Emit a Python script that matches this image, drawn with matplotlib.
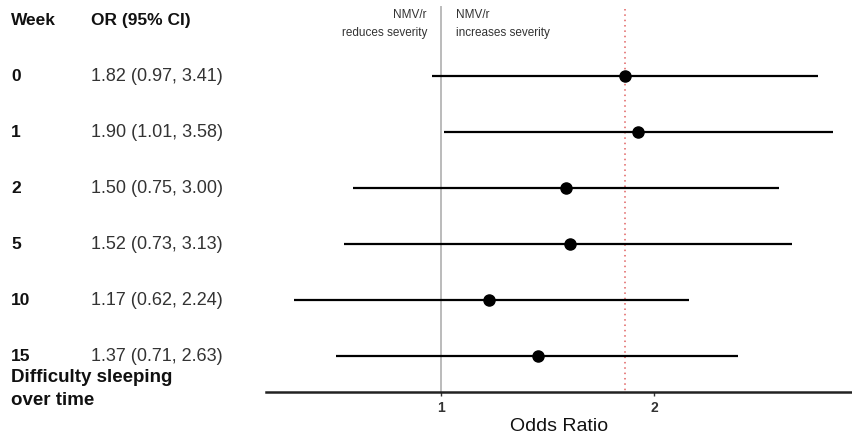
import numpy as np
import matplotlib.pyplot as plt
from matplotlib.transforms import blended_transform_factory

plt.rcParams['font.family'] = ['Liberation Sans', 'DejaVu Sans']

# Data
weeks = ['0', '1', '2', '5', '10', '15']
odds = [1.82, 1.90, 1.50, 1.52, 1.17, 1.37]
ci_low = [0.97, 1.01, 0.75, 0.73, 0.62, 0.71]
ci_high = [3.41, 3.58, 3.00, 3.13, 2.24, 2.63]
ref_value = 1.82
x_ticks = [1, 2]

W, H = 853, 439
fig = plt.figure(figsize=(W / 100, H / 100), dpi=100)
ax = fig.add_axes([266 / W, (H - 393) / H, 1 - 266 / W, 393 / H])

rows = np.arange(len(weeks))

# vertical reference lines
ax.plot([1, 1], [-1.23, 5.643], color='#bbbbbb', lw=1.4, zorder=1)
ax.plot([ref_value, ref_value], [-1.19, 5.643], color='#e06060', lw=1.1,
        ls=(0, (1, 2.5)), zorder=1)

# intervals and points
ax.hlines(rows, ci_low, ci_high, color='black', lw=1.6, zorder=2)
ax.plot(odds, rows, 'o', color='black', ms=8, zorder=3)

ax.set_xscale('log')
ax.set_xlim(0.566, 3.82)
ax.set_ylim(5.643, -1.375)
ax.set_xticks(x_ticks)
ax.set_xticklabels([str(t) for t in x_ticks])
ax.minorticks_off()
ax.tick_params(axis='x', length=3, width=1, color='#333333', labelsize=10,
               labelcolor='#333333', pad=3)
for lab in ax.get_xticklabels():
    lab.set_fontweight('bold')
ax.set_yticks([])
for s in ['top', 'right', 'left']:
    ax.spines[s].set_visible(False)
ax.spines['bottom'].set_linewidth(1.8)
ax.spines['bottom'].set_color('#222222')
ax.set_xlabel('Odds Ratio', fontsize=14, color='#111111', labelpad=2)

# direction notes
note = dict(fontsize=8.5, color='#333333', va='center')
ax.text(0.9555, -1.107, 'NMV/r', ha='right', **note)
ax.text(0.9555, -0.786, 'reduces severity', ha='right', **note)
ax.text(1.050, -1.107, 'NMV/r', ha='left', **note)
ax.text(1.050, -0.786, 'increases severity', ha='left', **note)

# table on the left
tr = blended_transform_factory(fig.transFigure, ax.transData)
ax.text(11 / W, -1, 'Week', transform=tr, fontsize=12.5, fontweight='bold',
        va='center', ha='left', color='#111111')
ax.text(91 / W, -1, 'OR (95% CI)', transform=tr, fontsize=12.5, fontweight='bold',
        va='center', ha='left', color='#111111')
for i, wk in enumerate(weeks):
    ax.text(11 / W, rows[i], wk, transform=tr, fontsize=12.5, fontweight='bold',
            va='center', ha='left', color='#111111')
    ax.text(91 / W, rows[i], f'{odds[i]:.2f} ({ci_low[i]:.2f}, {ci_high[i]:.2f})',
            transform=tr, fontsize=13, va='center', ha='left', color='#333333')
ax.text(11 / W, 5.57, 'Difficulty sleeping\nover time', transform=tr, fontsize=13.5,
        fontweight='bold', va='center', ha='left', color='#111111', linespacing=1.4)

fig.savefig('out.png', dpi=100)
